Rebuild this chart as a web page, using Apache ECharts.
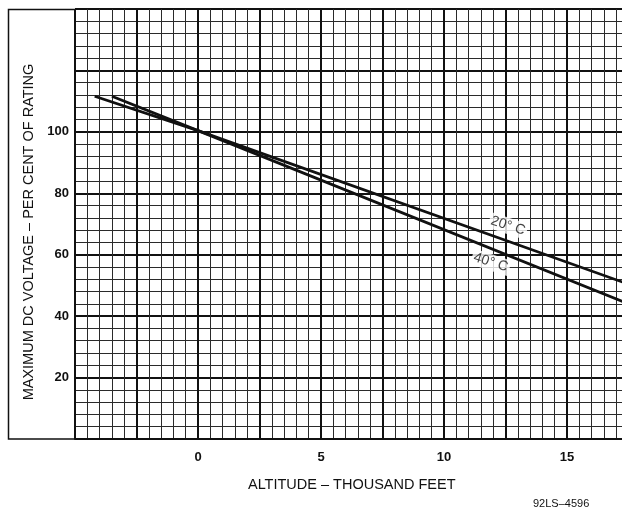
<!DOCTYPE html>
<html>
<head>
<meta charset="utf-8">
<script src="https://cdn.jsdelivr.net/npm/echarts@6/dist/echarts.min.js"></script>
<style>
html,body{margin:0;padding:0;background:#fff;}
#c{width:622px;height:507px;}
</style>
</head>
<body>
<div id="c"></div>
<script>
// Altitude in thousand feet vs max DC voltage (% of rating)
const temp20Alt = [-4.2, 0, 17.5];
const temp20Volt = [111.6, 100.4, 50.4];
const temp40Alt = [-3.5, 0, 17.5];
const temp40Volt = [111.6, 100.4, 44.0];
const curveNames = ['20° C', '40° C'];
const curveLabelAlt = [12.6, 11.9];
const curveLabelVolt = [69.4, 57.5];
const xTickLabels = [0, 5, 10, 15];
const yTickLabels = [20, 40, 60, 80, 100];

const FONT = '"Liberation Sans", Arial, sans-serif';
const chart = echarts.init(document.getElementById('c'), null, {renderer: 'canvas'});

function pairs(xs, ys) { return xs.map((x, i) => [x, ys[i]]); }

chart.setOption({
  animation: false,
  backgroundColor: '#fff',
  grid: {left: 75, top: 9, width: 553.5, height: 430, containLabel: false, outerBoundsMode: 'none'},
  xAxis: {
    type: 'value', min: -5, max: 17.5, interval: 2.5,
    name: 'ALTITUDE – THOUSAND FEET', nameLocation: 'middle', nameGap: 38,
    nameTextStyle: {fontFamily: FONT, fontSize: 14.5, color: '#111'},
    axisLine: {show: true, lineStyle: {color: '#111', width: 2}},
    axisTick: {show: false},
    axisLabel: {
      margin: 12, fontFamily: FONT, fontSize: 13, fontWeight: 'bold', color: '#111',
      formatter: v => xTickLabels.indexOf(v) >= 0 ? String(v) : ''
    },
    splitLine: {show: true, lineStyle: {color: '#111', width: 2}},
    minorTick: {show: false, splitNumber: 5},
    minorSplitLine: {show: true, lineStyle: {color: '#2a2a2a', width: 1}}
  },
  yAxis: {
    type: 'value', min: 0, max: 140, interval: 20,
    name: 'MAXIMUM DC VOLTAGE – PER CENT OF RATING', nameLocation: 'middle', nameGap: 39,
    nameTextStyle: {fontFamily: FONT, fontSize: 14.5, color: '#111', padding: [0, 16, 0, 0]},
    axisLine: {show: true, lineStyle: {color: '#111', width: 2}},
    axisTick: {show: false},
    axisLabel: {
      margin: 6, fontFamily: FONT, fontSize: 13, fontWeight: 'bold', color: '#111',
      formatter: v => yTickLabels.indexOf(v) >= 0 ? String(v) : ''
    },
    splitLine: {show: true, lineStyle: {color: '#111', width: 2}},
    minorTick: {show: false, splitNumber: 5},
    minorSplitLine: {show: true, lineStyle: {color: '#2a2a2a', width: 1}}
  },
  series: [
    {
      name: curveNames[0], type: 'line', data: pairs(temp20Alt, temp20Volt),
      symbol: 'none', lineStyle: {color: '#111', width: 2.8}, z: 5
    },
    {
      name: curveNames[1], type: 'line', data: pairs(temp40Alt, temp40Volt),
      symbol: 'none', lineStyle: {color: '#111', width: 2.8}, z: 5
    },
    {
      type: 'scatter', symbolSize: 1, itemStyle: {color: 'rgba(0,0,0,0)'}, z: 6,
      data: curveNames.map((n, i) => ({name: n, value: [curveLabelAlt[i], curveLabelVolt[i]]})),
      label: {
        show: true, position: 'inside', formatter: p => p.name, rotate: -18,
        fontFamily: FONT, fontSize: 14, color: '#111',
        backgroundColor: '#fff', padding: [1, 2]
      }
    }
  ],
  graphic: [
    {type: 'polyline', shape: {points: [[75, 9.5], [8.5, 9.5], [8.5, 439], [75, 439]]},
     style: {stroke: '#111', lineWidth: 1.5, fill: null}, z: 10},
    {type: 'text', left: 533, top: 498,
     style: {text: '92LS–4596', font: '11px ' + FONT, fill: '#111'}}
  ]
});
</script>
</body>
</html>
